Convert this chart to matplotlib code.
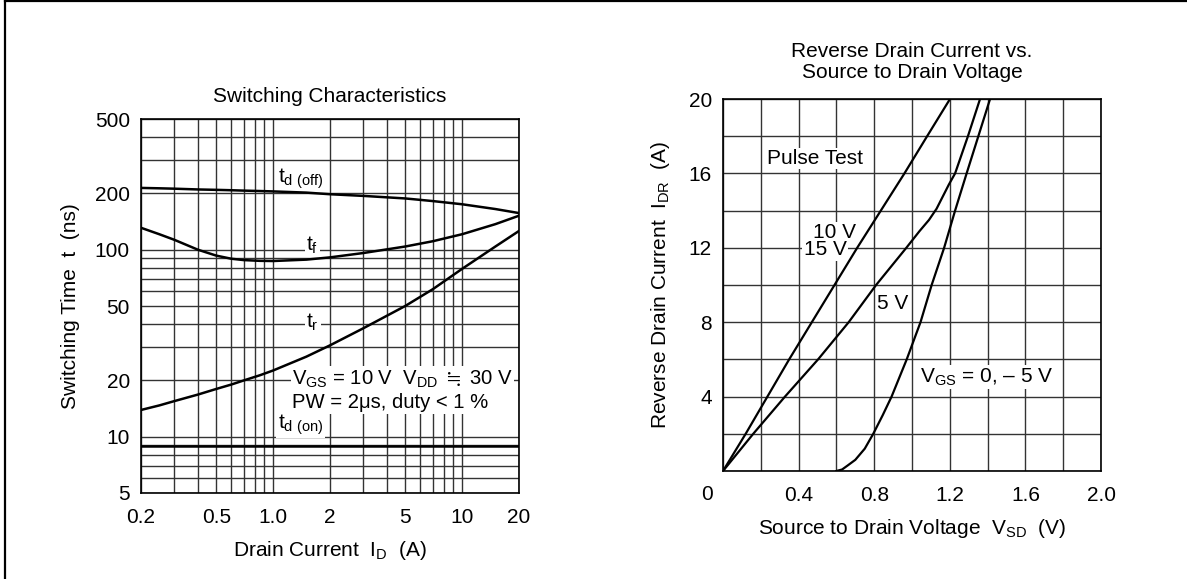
import numpy as np
import matplotlib.pyplot as plt
from matplotlib.lines import Line2D
from matplotlib.ticker import NullLocator

plt.rcParams['font.family'] = ['Liberation Sans', 'DejaVu Sans']
plt.rcParams['mathtext.fontset'] = 'custom'
plt.rcParams['mathtext.rm'] = 'Liberation Sans'
plt.rcParams['mathtext.it'] = 'Liberation Sans'
plt.rcParams['mathtext.default'] = 'rm'
plt.rcParams['mathtext.fallback'] = 'stix'

# Switching Characteristics (links)
id_pts = [0.2, 0.25, 0.3, 0.4, 0.5, 0.6, 0.7, 0.85, 1.0, 1.5, 2, 3, 5, 7, 10, 15, 20]
td_off = [214, 213, 212, 210, 209, 208, 207, 206, 205, 202, 198, 194, 188, 182, 175, 165, 157]
t_f = [131, 121, 113, 100, 93, 89.5, 88, 87.2, 87, 88.5, 91, 96, 104, 111, 121, 137, 152]
t_r = [13.9, 14.7, 15.5, 16.8, 18.0, 19.0, 20.0, 21.3, 22.6, 26.8, 30.8, 38.0, 50.0, 61.5, 79, 104, 126]
id_on = [0.2, 20]
td_on = [8.9, 8.9]

x1_ticks = [0.2, 0.3, 0.4, 0.5, 0.6, 0.7, 0.8, 0.9, 1, 2, 3, 4, 5, 6, 7, 8, 9, 10, 20]
x1_labels = ['0.2', '', '', '0.5', '', '', '', '', '1.0', '2', '', '', '5', '', '', '', '', '10', '20']
y1_ticks = [5, 6, 7, 8, 9, 10, 20, 30, 40, 50, 60, 70, 80, 90, 100, 200, 300, 400, 500]
y1_labels = ['5', '', '', '', '', '10', '20', '', '', '50', '', '', '', '', '100', '200', '', '', '500']

# Reverse Drain Current (rechts)
vsd_10 = [0, 0.12, 0.235, 0.35, 0.47, 0.59, 0.71, 0.835, 0.96, 1.08, 1.201]
idr_10 = [0, 2, 4, 6, 8, 10, 12, 14, 16, 18, 20]
vsd_5 = [0, 0.16, 0.328, 0.503, 0.665, 0.81, 0.97, 1.04, 1.09, 1.13, 1.165, 1.195, 1.228, 1.296, 1.36]
idr_5 = [0, 2, 4, 6, 8, 10, 12, 12.9, 13.5, 14.1, 14.8, 15.4, 16, 18, 20]
vsd_0 = [0.6, 0.63, 0.66, 0.7, 0.75, 0.795, 0.845, 0.892, 0.972, 1.045, 1.104, 1.17, 1.228, 1.289, 1.351, 1.413]
idr_0 = [0, 0.08, 0.3, 0.6, 1.2, 2, 3, 4, 6, 8, 10, 12, 14, 16, 18, 20]

x2_ticks = np.round(np.arange(0, 2.01, 0.2), 1)
x2_labels = ['', '', '0.4', '', '0.8', '', '1.2', '', '1.6', '', '2.0']
y2_ticks = np.arange(0, 21, 2)
y2_labels = ['', '', '4', '', '8', '', '12', '', '16', '', '20']

W, H = 1187, 579
fs = 15
fig = plt.figure(figsize=(W / 100, H / 100), dpi=100)

def box(x0, y0, w, h):
    return [x0 / W, 1 - (y0 + h) / H, w / W, h / H]

def fx(x):
    return x / W

def fy(y):
    return 1 - y / H

bg = dict(facecolor='white', edgecolor='none', pad=1)
grid_kw = dict(color='#333333', linewidth=1.0)

# Rahmen
fig.add_artist(Line2D([fx(5), fx(5)], [0, 1], color='black', lw=1.6))
fig.add_artist(Line2D([fx(5), 1], [fy(1), fy(1)], color='black', lw=1.6))

# --------------------------------------------------------
ax1 = fig.add_axes(box(141, 119, 378, 374))
ax1.set_xscale('log')
ax1.set_yscale('log')
ax1.set_xlim(0.2, 20)
ax1.set_ylim(5, 500)
ax1.set_xticks(x1_ticks)
ax1.set_xticklabels(x1_labels)
ax1.set_yticks(y1_ticks)
ax1.set_yticklabels(y1_labels)
ax1.xaxis.set_minor_locator(NullLocator())
ax1.yaxis.set_minor_locator(NullLocator())
ax1.tick_params(axis='both', length=0, labelsize=fs)
ax1.tick_params(axis='x', pad=11)
ax1.tick_params(axis='y', pad=8)
ax1.set_axisbelow(True)
ax1.grid(True, **grid_kw)
for s in ax1.spines.values():
    s.set_linewidth(1.2)

ax1.plot(id_pts, td_off, color='black', lw=1.8, zorder=4)
ax1.plot(id_pts, t_f, color='black', lw=1.8, zorder=4)
ax1.plot(id_pts, t_r, color='black', lw=1.8, zorder=4)
ax1.plot(id_on, td_on, color='black', lw=1.8, zorder=4)

ax1.text(1.06, 241, r'$\mathrm{t_{d\ (off)}}$', fontsize=fs, ha='left', va='center', bbox=bg, zorder=3)
ax1.text(1.5, 106, r'$\mathrm{t_f}$', fontsize=fs, ha='left', va='center', bbox=bg, zorder=3)
ax1.text(1.5, 41, r'$\mathrm{t_r}$', fontsize=fs, ha='left', va='center', bbox=bg, zorder=3)
ax1.text(1.26, 17.6, 'V$_{\\mathrm{GS}}$ = 10 V  V$_{\\mathrm{DD}}$ $\\fallingdotseq$ 30 V\nPW = 2\u03bcs, duty < 1 %',
         fontsize=14.6, ha='left', va='center', bbox=bg, zorder=3)
ax1.text(1.06, 11.6, r'$\mathrm{t_{d\ (on)}}$', fontsize=fs, ha='left', va='center', bbox=bg, zorder=3)

fig.text(fx(330), fy(96), 'Switching Characteristics', fontsize=fs, ha='center', va='center')
fig.text(fx(330), fy(550), 'Drain Current  I$_{\\mathrm{D}}$  (A)', fontsize=fs, ha='center', va='center')
fig.text(fx(70), fy(306), 'Switching Time  t  (ns)', fontsize=fs, ha='center', va='center', rotation=90)

# --------------------------------------------------------
ax2 = fig.add_axes(box(723, 99, 378, 372))
ax2.set_xlim(0, 2.0)
ax2.set_ylim(0, 20)
ax2.set_xticks(x2_ticks)
ax2.set_xticklabels(x2_labels)
ax2.set_yticks(y2_ticks)
ax2.set_yticklabels(y2_labels)
ax2.tick_params(axis='both', length=0, labelsize=fs)
ax2.tick_params(axis='x', pad=11)
ax2.tick_params(axis='y', pad=8)
ax2.set_axisbelow(True)
ax2.grid(True, **grid_kw)
for s in ax2.spines.values():
    s.set_linewidth(1.2)

ax2.plot(vsd_10, idr_10, color='black', lw=1.6, zorder=4)
ax2.plot(vsd_5, idr_5, color='black', lw=1.6, zorder=4)
ax2.plot(vsd_0, idr_0, color='black', lw=1.6, zorder=4)

ax2.text(0.233, 16.8, 'Pulse Test', fontsize=fs, ha='left', va='center', bbox=bg, zorder=3)
ax2.text(0.705, 12.8, '10 V', fontsize=fs, ha='right', va='center', bbox=bg, zorder=3)
ax2.text(0.655, 11.9, '15 V', fontsize=fs, ha='right', va='center', bbox=bg, zorder=3)
ax2.text(0.815, 9.0, '5 V', fontsize=fs, ha='left', va='center', bbox=bg, zorder=3)
ax2.text(1.042, 5.05, 'V$_{\\mathrm{GS}}$ = 0, \u2013 5 V', fontsize=fs, ha='left', va='center', bbox=bg, zorder=3)

fig.text(fx(707), fy(495), '0', fontsize=fs, ha='center', va='center')
fig.text(fx(912), fy(62), 'Reverse Drain Current vs.\nSource to Drain Voltage', fontsize=fs,
         ha='center', va='center', linespacing=1.1)
fig.text(fx(912), fy(528), 'Source to Drain Voltage  V$_{\\mathrm{SD}}$  (V)', fontsize=fs, ha='center', va='center')
fig.text(fx(661), fy(285), 'Reverse Drain Current  I$_{\\mathrm{DR}}$  (A)', fontsize=fs, ha='center', va='center',
         rotation=90)

fig.savefig('out.png', dpi=100)
